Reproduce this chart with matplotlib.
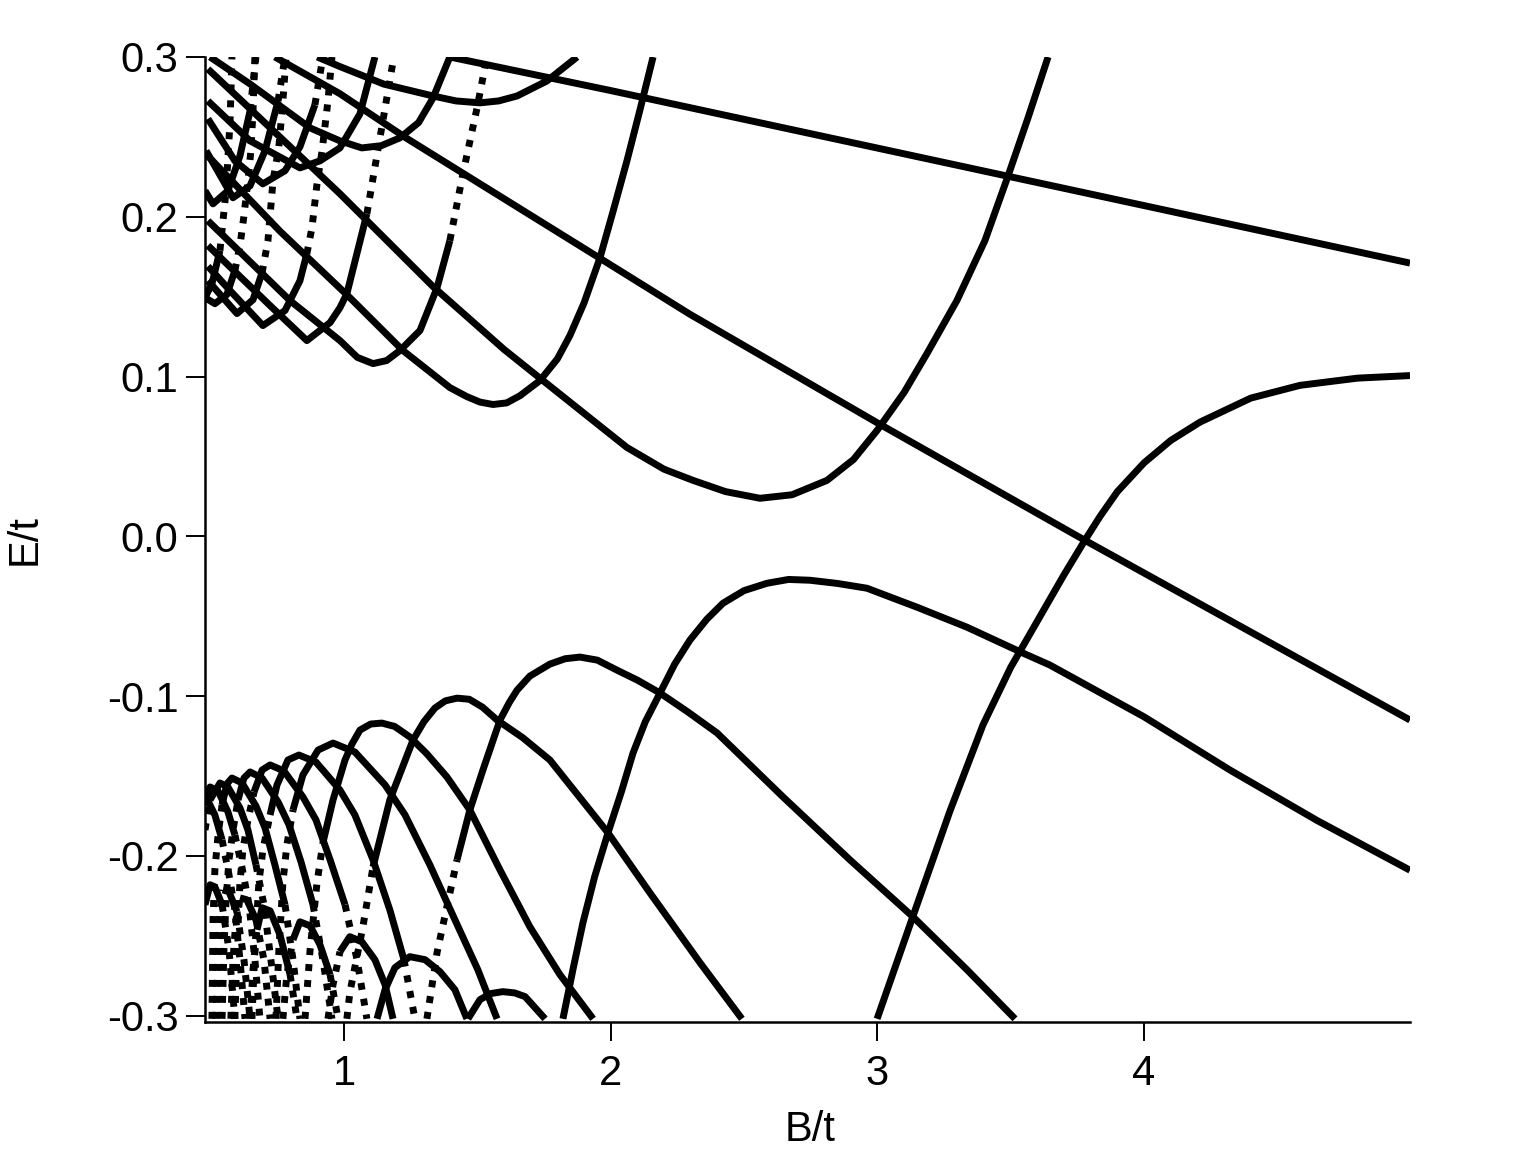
import numpy as np
import matplotlib
matplotlib.use("Agg")
import matplotlib.pyplot as plt

plt.rcParams['font.family'] = ['Liberation Sans', 'DejaVu Sans']

# Levels: (B/t, E/t) pairs.
# straight-ish descending levels in the upper half
D1 = ([1.397, 2.0, 3.0, 4.0, 4.997],
      [0.300, 0.279, 0.243, 0.207, 0.171])
D2 = ([0.741, 0.985, 1.236, 1.96, 2.297, 3.0, 3.778, 4.997],
      [0.300, 0.277, 0.249, 0.174, 0.139, 0.071, -0.0025, -0.115])

# upper "outer" family (minima near E = 0.21 .. 0.27)
UA = ([0.90, 0.985, 1.15, 1.334, 1.42, 1.51, 1.58, 1.649, 1.761, 1.874],
      [0.300, 0.294, 0.283, 0.2756, 0.2725, 0.2713, 0.2725, 0.2756, 0.285, 0.300])
UB = ([0.498, 0.648, 0.873, 0.985, 1.067, 1.14, 1.21, 1.28, 1.334, 1.397],
      [0.300, 0.2831, 0.2556, 0.2475, 0.2431, 0.2445, 0.2494, 0.259, 0.2744, 0.300])
UC = ([0.490, 0.648, 0.835, 0.91, 0.985, 1.06, 1.116],
      [0.2725, 0.2475, 0.2306, 0.235, 0.2431, 0.2644, 0.300])
UD = ([0.490, 0.591, 0.696, 0.779, 0.835, 0.891, 0.921],
      [0.2613, 0.235, 0.2206, 0.2288, 0.2438, 0.270, 0.300])
UE = ([0.483, 0.584, 0.648, 0.704, 0.753, 0.779],
      [0.2413, 0.2119, 0.2194, 0.2413, 0.2725, 0.300])
UF = ([0.479, 0.509, 0.565, 0.610, 0.648, 0.670],
      [0.2163, 0.2081, 0.2163, 0.2381, 0.2663, 0.300])

# upper "inner" family (minima near E = 0.02 .. 0.15)
U0 = ([0.490, 0.985, 1.334, 1.60, 1.746, 1.90, 2.061, 2.20, 2.309, 2.43, 2.56, 2.68,
       2.811, 2.91, 2.999, 3.10, 3.186, 3.298, 3.403, 3.49, 3.565, 3.640],
      [0.2925, 0.2144, 0.1563, 0.117, 0.0975, 0.077, 0.0556, 0.042, 0.035, 0.028, 0.0238,
       0.026, 0.035, 0.048, 0.0663, 0.090, 0.1144, 0.1475, 0.185, 0.2256, 0.262, 0.300])
U1 = ([0.490, 0.760, 1.022, 1.221, 1.397, 1.46, 1.51, 1.559, 1.61, 1.66, 1.735, 1.80,
       1.847, 1.90, 1.96, 2.01, 2.061, 2.11, 2.159],
      [0.238, 0.191, 0.1494, 0.1163, 0.0931, 0.0875, 0.084, 0.0825, 0.0835, 0.088, 0.0975,
       0.111, 0.1256, 0.146, 0.1744, 0.204, 0.235, 0.267, 0.300])
U2 = ([0.490, 0.798, 0.985, 1.05, 1.109, 1.16, 1.21, 1.285, 1.349, 1.397, 1.446, 1.499, 1.536],
      [0.1975, 0.1475, 0.1225, 0.112, 0.1081, 0.110, 0.1163, 0.1288, 0.1556, 0.185, 0.2269,
       0.2681, 0.300])
U3 = ([0.490, 0.723, 0.861, 0.948, 0.985, 1.011, 1.086, 1.135, 1.187],
      [0.182, 0.1444, 0.1225, 0.1338, 0.1431, 0.1519, 0.2019, 0.2494, 0.300])
U4 = ([0.490, 0.573, 0.696, 0.779, 0.835, 0.861, 0.880, 0.899, 0.918, 0.940, 0.955],
      [0.169, 0.1538, 0.1319, 0.1413, 0.160, 0.1769, 0.1931, 0.2206, 0.2413, 0.2725, 0.300])
U5 = ([0.490, 0.599, 0.659, 0.693, 0.715, 0.734, 0.756, 0.771, 0.783],
      [0.160, 0.1394, 0.1481, 0.165, 0.185, 0.2225, 0.2438, 0.2725, 0.300])
U6 = ([0.479, 0.516, 0.561, 0.591, 0.610, 0.625, 0.640, 0.651, 0.659, 0.666],
      [0.1494, 0.1456, 0.1513, 0.1663, 0.1819, 0.2006, 0.2225, 0.2413, 0.2663, 0.300])
U7 = ([0.479, 0.505, 0.535, 0.558, 0.573, 0.580],
      [0.1494, 0.1581, 0.1788, 0.2163, 0.260, 0.300])

# lower "inner" family (maxima near E = -0.03 .. -0.16)
L0 = ([2.999, 3.133, 3.272, 3.396, 3.50, 3.60, 3.70, 3.778, 3.835, 3.90, 4.0, 4.10,
       4.21, 4.40, 4.585, 4.80, 4.997],
      [-0.302, -0.238, -0.172, -0.118, -0.082, -0.053, -0.024, -0.0025, 0.0125, 0.028,
       0.046, 0.060, 0.0715, 0.0865, 0.0945, 0.099, 0.1006])
L1 = ([1.821, 1.86, 1.896, 1.94, 1.990, 2.04, 2.084, 2.13, 2.185, 2.24, 2.297, 2.36,
       2.421, 2.50, 2.586, 2.667, 2.747, 2.85, 2.961, 3.149, 3.336, 3.546, 3.647, 4.0,
       4.322, 4.65, 4.997],
      [-0.302, -0.27, -0.2419, -0.213, -0.1856, -0.16, -0.1356, -0.116, -0.0981, -0.08,
       -0.065, -0.052, -0.0419, -0.034, -0.0294, -0.027, -0.0275, -0.0295, -0.0325,
       -0.0444, -0.0569, -0.0731, -0.0806, -0.113, -0.1463, -0.178, -0.209])
L2 = ([1.311, 1.349, 1.386, 1.424, 1.472, 1.521, 1.585, 1.62, 1.649, 1.697, 1.772, 1.83,
       1.885, 1.95, 2.024, 2.10, 2.185, 2.29, 2.399, 2.646, 2.897, 3.133, 3.336, 3.516],
      [-0.302, -0.2606, -0.2319, -0.2025, -0.1713, -0.1463, -0.115, -0.104, -0.0963,
       -0.0875, -0.080, -0.0766, -0.0756, -0.0775, -0.0838, -0.090, -0.0981, -0.110,
       -0.1231, -0.1631, -0.2025, -0.2381, -0.2713, -0.302])
L3 = ([1.011, 1.022, 1.071, 1.109, 1.172, 1.259, 1.30, 1.341, 1.38, 1.424, 1.47, 1.52,
       1.574, 1.67, 1.772, 1.990, 2.147, 2.335, 2.492],
      [-0.302, -0.2856, -0.2444, -0.2069, -0.165, -0.1275, -0.116, -0.1075, -0.103,
       -0.1013, -0.102, -0.107, -0.115, -0.126, -0.140, -0.1856, -0.2231, -0.2669, -0.302])
L4 = ([0.854, 0.873, 0.899, 0.921, 0.959, 1.004, 1.03, 1.060, 1.10, 1.142, 1.19, 1.247,
       1.31, 1.386, 1.472, 1.585, 1.697, 1.810, 1.934],
      [-0.302, -0.2588, -0.2169, -0.1919, -0.165, -0.140, -0.130, -0.1213, -0.1175,
       -0.1169, -0.119, -0.1256, -0.136, -0.1506, -0.1713, -0.2088, -0.2444, -0.2744, -0.302])
L5 = ([0.745, 0.756, 0.771, 0.786, 0.809, 0.846, 0.903, 0.959, 1.041, 1.154, 1.229,
       1.322, 1.416, 1.502, 1.574],
      [-0.302, -0.2588, -0.2169, -0.1931, -0.1713, -0.1494, -0.1338, -0.1294, -0.135,
       -0.1556, -0.1744, -0.2056, -0.240, -0.2713, -0.302])
L6 = ([0.655, 0.666, 0.681, 0.696, 0.723, 0.749, 0.790, 0.831, 0.895, 0.985, 1.041,
       1.109, 1.172, 1.225, 1.266],
      [-0.302, -0.2588, -0.2169, -0.1963, -0.1744, -0.1556, -0.140, -0.1369, -0.1413,
       -0.1588, -0.1744, -0.2025, -0.2338, -0.265, -0.302])
L7 = ([0.591, 0.599, 0.610, 0.621, 0.640, 0.663, 0.693, 0.723, 0.775, 0.846, 0.895,
       0.948, 1.004, 1.049, 1.086],
      [-0.302, -0.2588, -0.2169, -0.1963, -0.1775, -0.160, -0.1463, -0.1431, -0.1469,
       -0.1631, -0.1775, -0.2025, -0.2306, -0.265, -0.302])
L8 = ([0.543, 0.550, 0.558, 0.569, 0.584, 0.603, 0.625, 0.648, 0.693, 0.753, 0.794,
       0.839, 0.884, 0.921, 0.955],
      [-0.302, -0.2588, -0.2275, -0.2025, -0.1838, -0.165, -0.1513, -0.1475, -0.1513,
       -0.1663, -0.1806, -0.2038, -0.2306, -0.265, -0.302])
L9 = ([0.505, 0.509, 0.516, 0.528, 0.543, 0.561, 0.580, 0.618, 0.670, 0.704, 0.741,
       0.779, 0.809, 0.835],
      [-0.302, -0.240, -0.2088, -0.1869, -0.1681, -0.155, -0.1513, -0.1544, -0.1688,
       -0.1825, -0.2056, -0.2306, -0.265, -0.302])
L10 = ([0.479, 0.498, 0.535, 0.565, 0.610, 0.640, 0.670, 0.700, 0.726, 0.753],
       [-0.1838, -0.165, -0.1544, -0.1569, -0.170, -0.1838, -0.2056, -0.2306, -0.265, -0.302])
L11 = ([0.479, 0.498, 0.528, 0.565, 0.591, 0.618, 0.644, 0.666, 0.685],
       [-0.165, -0.1569, -0.1594, -0.1725, -0.1869, -0.2075, -0.2306, -0.265, -0.302])
L12 = ([0.479, 0.516, 0.543, 0.569, 0.591, 0.610, 0.629],
       [-0.1619, -0.1744, -0.190, -0.2119, -0.2338, -0.265, -0.302])

# lower "outer" family (small arches near the bottom edge)
M0 = ([1.465, 1.510, 1.55, 1.596, 1.64, 1.679, 1.754],
      [-0.302, -0.290, -0.2862, -0.285, -0.2858, -0.2881, -0.302])
M1 = ([1.124, 1.154, 1.191, 1.247, 1.304, 1.360, 1.416, 1.461],
      [-0.302, -0.2838, -0.270, -0.2631, -0.265, -0.2725, -0.2838, -0.302])
M2 = ([0.940, 0.959, 0.985, 1.022, 1.067, 1.116, 1.154, 1.184],
      [-0.302, -0.2806, -0.260, -0.2506, -0.2538, -0.265, -0.2806, -0.302])
M3 = ([0.771, 0.786, 0.809, 0.835, 0.873, 0.910, 0.948, 0.978],
      [-0.302, -0.2744, -0.2525, -0.2413, -0.2438, -0.2556, -0.2744, -0.302])
M4 = ([0.648, 0.659, 0.674, 0.693, 0.723, 0.760, 0.798, 0.824],
      [-0.302, -0.2713, -0.2463, -0.2325, -0.2344, -0.2494, -0.2744, -0.302])
M5 = ([0.576, 0.584, 0.595, 0.610, 0.636, 0.670, 0.700, 0.723],
      [-0.302, -0.265, -0.240, -0.2263, -0.2275, -0.240, -0.265, -0.302])
M6 = ([0.520, 0.528, 0.535, 0.546, 0.569, 0.599, 0.625, 0.648],
      [-0.302, -0.2588, -0.2338, -0.2213, -0.2225, -0.235, -0.265, -0.302])
M7 = ([0.479, 0.498, 0.516, 0.543, 0.569, 0.591],
      [-0.2306, -0.2181, -0.2194, -0.2306, -0.2588, -0.302])

levels = [D1, D2, UA, UB, UC, UD, UE, UF, U0, U1, U2, U3, U4, U5, U6, U7,
          L0, L1, L2, L3, L4, L5, L6, L7, L8, L9, L10, L11, L12,
          M0, M1, M2, M3, M4, M5, M6, M7]
solid_levels = [U0, U1, L0, L1]   # densely sampled in the original, never dotted

x_ticks = [1, 2, 3, 4]
y_ticks = [-0.3, -0.2, -0.1, 0.0, 0.1, 0.2, 0.3]

LW = 5.0
STEEP = 0.75   # |dE/dB| above which the sampled curve looks dotted


def draw_level(ax, B, E, steep_lim):
    B = np.asarray(B)
    E = np.asarray(E)
    steep = np.abs(np.diff(E) / np.diff(B)) > steep_lim
    start = 0
    for i in range(1, len(steep) + 1):
        if i == len(steep) or steep[i] != steep[start]:
            seg = slice(start, i + 1)
            if steep[start]:
                ax.plot(B[seg], E[seg], color='k', lw=LW, ls=(0, (1.0, 1.3)),
                        dash_capstyle='butt')
            else:
                ax.plot(B[seg], E[seg], color='k', lw=LW, ls='-',
                        solid_capstyle='butt', solid_joinstyle='round')
            start = i


fig = plt.figure(figsize=(15.2, 11.6), dpi=100)
ax = fig.add_axes([205 / 1520, 1 - 1022 / 1160, 1205 / 1520, 965 / 1160])

for lev in levels:
    lim = 1e9 if any(lev is s for s in solid_levels) else STEEP
    draw_level(ax, lev[0], lev[1], lim)

ax.set_xlim(0.479, 4.997)
ax.set_ylim(-0.304, 0.3)
ax.set_xticks(x_ticks)
ax.set_xticklabels([str(v) for v in x_ticks])
ax.set_yticks(y_ticks)
ax.set_yticklabels(['%.1f' % v for v in y_ticks])

for s in ['top', 'right']:
    ax.spines[s].set_visible(False)
for s in ['left', 'bottom']:
    ax.spines[s].set_linewidth(1.8)
ax.tick_params(direction='out', length=14, width=1.4, labelsize=30)
ax.tick_params(axis='y', pad=5)
ax.tick_params(axis='x', pad=9)

ax.set_xlabel('B/t', fontsize=30)
ax.set_ylabel('E/t', fontsize=30)
ax.xaxis.set_label_coords(0.502, -0.091)
ax.yaxis.set_label_coords(-0.133, 0.5)

fig.savefig('out.png', dpi=100)
